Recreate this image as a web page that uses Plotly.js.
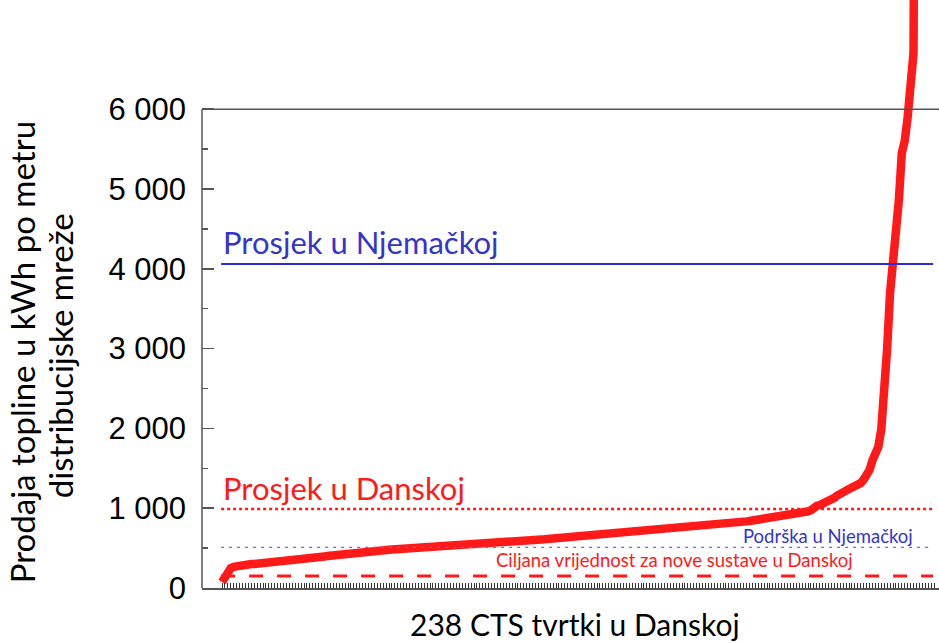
<!DOCTYPE html>
<html>
<head>
<meta charset="utf-8">
<script src="https://cdn.plot.ly/plotly-3.0.1.min.js"></script>
<style>html,body{margin:0;padding:0;background:#fff;}#chart{width:939px;height:643px;}</style>
</head>
<body>
<div id="chart"></div>
<script>
// Heat sales per metre of network, 238 Danish district heating companies, sorted
const salesPerMetre = [
  75,150,200,250,265,
  275,280,285,290,295,
  300,302,305,308,310,312,315,318,320,322,325,330,335,340,345,350,355,
  362,365,370,375,380,384,388,392,396,400,405,410,415,420,425,430,435,440,
  443,446,450,453,456,459,462,465,468,471,474,477,480,482,485,487,490,
  492,494,496,498,500,502,504,506,508,510,512,514,516,518,520,522,525,
  528,531,534,537,540,543,546,549,552,555,558,561,564,567,570,572,575,
  577,580,582,585,587,590,592,594,597,599,602,604,607,609,611,614,616,619,621,624,626,629,631,634,636,639,641,644,646,649,651,654,657,660,
  663,666,669,672,675,678,681,684,687,690,693,696,699,702,705,708,711,714,717,720,723,726,729,732,735,738,741,744,747,750,753,756,760,765,
  769,773,777,781,786,790,795,800,805,810,814,818,822,826,830,835,840,
  845,850,855,860,865,870,875,880,885,890,895,900,905,910,915,920,930,
  940,950,960,975,1010,1030,1040,
  1055,1070,1090,1110,1130,1160,1190,
  1205,1220,1240,1255,1270,1290,1315,
  1360,1420,1480,
  1600,1680,1770,1990,2400,3000,3700,4060,4500,4860,5450,5600,5900,6300,6700,14000
];
const companyIndex = salesPerMetre.map((v, i) => i + 1);

const yTickVals = [0, 1000, 2000, 3000, 4000, 5000, 6000];
const yTickText = ['0', '1 000', '2 000', '3 000', '4 000', '5 000', '6 000'];
const yMinorVals = [500, 1500, 2500, 3500, 4500, 5500];

const avgGermany = 4060;
const avgDenmark = 990;
const supportGermany = 510;
const targetDenmark = 150;

const labelAvgGermany = 'Prosjek u Njemačkoj';
const labelAvgDenmark = 'Prosjek u Danskoj';
const labelSupportGermany = 'Podrška u Njemačkoj';
const labelTargetDenmark = 'Ciljana vrijednost za nove sustave u Danskoj';
const yTitleLine1 = 'Prodaja topline u kWh po metru';
const yTitleLine2 = 'distribucijske mreže';
const xTitle = '238 CTS tvrtki u Danskoj';

const refX0 = 0.7, refX1 = 243.7;
const xTickVals = [];
for (let i = 1; i <= 244; i++) xTickVals.push(i);

const RED = '#ff1a1a';
const BLUE = '#2b2bdd';
const BLUE_TXT = '#3535cc';
const TXT_FONT = 'Lato, "Open Sans", sans-serif';

const traces = [{
  x: companyIndex,
  y: salesPerMetre,
  type: 'scatter',
  mode: 'lines',
  line: {color: RED, width: 8.5},
  hoverinfo: 'x+y',
  showlegend: false
}];

const shapes = [
  {type: 'line', xref: 'paper', yref: 'y', x0: 0, x1: 0, y0: 0, y1: 6000, line: {color: '#555', width: 1.5}},
  {type: 'line', xref: 'paper', yref: 'y', x0: 0, x1: 1, y0: 6000, y1: 6000, line: {color: '#555', width: 1.5}},
  {type: 'line', xref: 'x', yref: 'y', x0: refX0, x1: refX1, y0: avgGermany, y1: avgGermany, line: {color: BLUE, width: 1.8}},
  {type: 'line', xref: 'x', yref: 'y', x0: refX0, x1: refX1, y0: avgDenmark, y1: avgDenmark, line: {color: RED, width: 2.5, dash: 'dot'}},
  {type: 'line', xref: 'x', yref: 'y', x0: refX0, x1: refX1, y0: supportGermany, y1: supportGermany, line: {color: '#6a6aee', width: 1.3, dash: '3px,5px'}},
  {type: 'line', xref: 'x', yref: 'y', x0: refX0, x1: refX1, y0: targetDenmark, y1: targetDenmark, line: {color: RED, width: 3, dash: '14px,14px'}}
];

const annotations = [
  {xref: 'x', yref: 'y', x: refX0, y: avgGermany, yshift: 22, xanchor: 'left', yanchor: 'middle', showarrow: false,
   text: labelAvgGermany, font: {family: TXT_FONT, size: 31, color: BLUE_TXT}},
  {xref: 'x', yref: 'y', x: refX0, y: avgDenmark, yshift: 21, xanchor: 'left', yanchor: 'middle', showarrow: false,
   text: labelAvgDenmark, font: {family: TXT_FONT, size: 31, color: RED}},
  {xref: 'x', yref: 'y', x: 237.5, y: supportGermany, yshift: 11, xanchor: 'right', yanchor: 'middle', showarrow: false,
   text: labelSupportGermany, font: {family: TXT_FONT, size: 18.5, color: BLUE_TXT}},
  {xref: 'x', yref: 'y', x: 217, y: targetDenmark, yshift: 16, xanchor: 'right', yanchor: 'middle', showarrow: false,
   text: labelTargetDenmark, font: {family: TXT_FONT, size: 18.5, color: RED}},
  {xref: 'paper', yref: 'paper', x: -0.2442, y: 0.401, xanchor: 'center', yanchor: 'middle', showarrow: false, textangle: -90,
   text: yTitleLine1, font: {family: TXT_FONT, size: 33, color: '#000'}},
  {xref: 'paper', yref: 'paper', x: -0.1927, y: 0.396, xanchor: 'center', yanchor: 'middle', showarrow: false, textangle: -90,
   text: yTitleLine2, font: {family: TXT_FONT, size: 33, color: '#000'}},
  {xref: 'paper', yref: 'paper', x: 0.506, y: 0, yshift: -36, xanchor: 'center', yanchor: 'middle', showarrow: false,
   text: xTitle, font: {family: TXT_FONT, size: 30, color: '#000'}}
];

const layout = {
  width: 939, height: 643,
  margin: {l: 202, r: 0, t: 0, b: 55, pad: 0},
  paper_bgcolor: '#fff', plot_bgcolor: '#fff',
  showlegend: false,
  xaxis: {
    range: [-5.83, 245.7],
    showgrid: false, zeroline: false,
    showline: true, linecolor: '#555', linewidth: 1.5,
    ticks: 'inside', ticklen: 5, tickwidth: 1, tickcolor: '#333',
    tickmode: 'array', tickvals: xTickVals, showticklabels: false
  },
  yaxis: {
    range: [0, 7368],
    showgrid: false, zeroline: false, showline: false,
    ticks: 'inside', ticklen: 12, tickwidth: 1.5, tickcolor: '#555',
    tickmode: 'array', tickvals: yTickVals, ticktext: yTickText,
    ticklabelstandoff: 15,
    tickfont: {family: 'Liberation Sans, Arial, sans-serif', size: 31, color: '#000'},
    minor: {ticks: 'inside', ticklen: 6, tickwidth: 1.5, tickcolor: '#555', tickvals: yMinorVals, showgrid: false}
  },
  shapes: shapes,
  annotations: annotations
};

Plotly.newPlot('chart', traces, layout, {staticPlot: true, displayModeBar: false});
</script>
</body>
</html>
